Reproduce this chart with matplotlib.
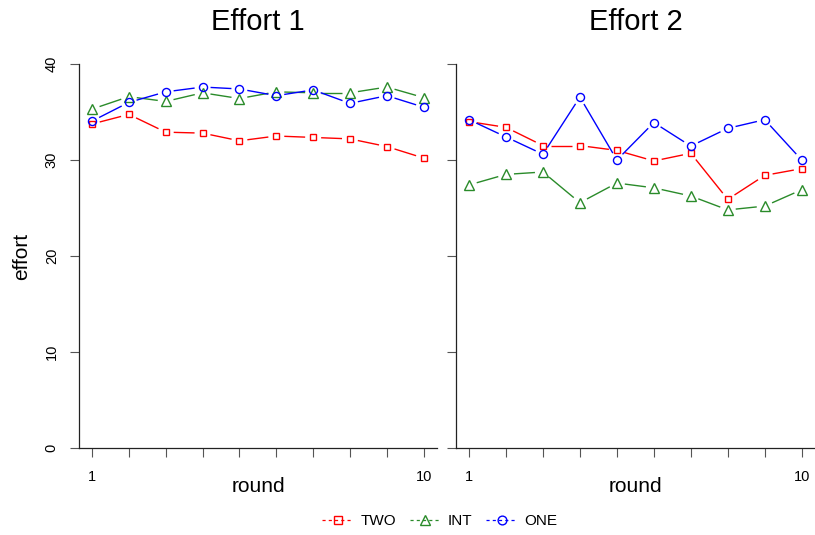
import numpy as np
import matplotlib
matplotlib.use("Agg")
import matplotlib.pyplot as plt
from matplotlib.lines import Line2D

plt.rcParams["font.family"] = ["Liberation Sans", "DejaVu Sans"]

ROUNDS = list(range(1, 11))
GROUPS = ["TWO", "INT", "ONE"]
COLORS = {"TWO": "#ff0000", "INT": "#2a8b2a", "ONE": "#0000ff"}
MARKERS = {"TWO": "s", "INT": "^", "ONE": "o"}
MSIZE = {"TWO": 5.0, "INT": 6.5, "ONE": 5.8}

# effort 1 (left panel)
e1_two = [33.75, 34.75, 32.9, 32.8, 32.0, 32.5, 32.35, 32.2, 31.4, 30.2]
e1_int = [35.3, 36.6, 36.1, 37.0, 36.4, 37.1, 37.0, 37.0, 37.6, 36.5]
e1_one = [34.05, 36.0, 37.1, 37.6, 37.4, 36.7, 37.3, 35.9, 36.7, 35.5]
# effort 2 (right panel)
e2_two = [34.0, 33.4, 31.5, 31.5, 31.0, 29.9, 30.7, 25.9, 28.4, 29.1]
e2_int = [27.4, 28.5, 28.75, 25.55, 27.6, 27.1, 26.25, 24.8, 25.2, 26.9]
e2_one = [34.2, 32.4, 30.6, 36.55, 30.0, 33.9, 31.45, 33.3, 34.2, 30.0]

PANELS = [("Effort 1", {"TWO": e1_two, "INT": e1_int, "ONE": e1_one}),
          ("Effort 2", {"TWO": e2_two, "INT": e2_int, "ONE": e2_one})]

W, H = 815, 535
fig = plt.figure(figsize=(W / 100, H / 100), dpi=100)
boxes = [(79, 437), (456, 815)]
top, bottom = 64, 448


def gapped_line(ax, x, y, color, gap=8.0):
    # R type="b": segments stop short of the points
    tr = ax.transData
    pts = tr.transform(np.column_stack([x, y]))
    inv = tr.inverted()
    for p, q in zip(pts[:-1], pts[1:]):
        d = q - p
        L = np.hypot(*d)
        if L <= 2 * gap:
            continue
        u = d / L
        a, b = inv.transform(np.array([p + u * gap, q - u * gap]))
        ax.plot([a[0], b[0]], [a[1], b[1]], color=color, lw=1.0,
                solid_capstyle="butt")


for i, ((title, series), (x0, x1)) in enumerate(zip(PANELS, boxes)):
    ax = fig.add_axes([x0 / W, (H - bottom) / H, (x1 - x0) / W, (bottom - top) / H])
    ax.set_xlim(0.648, 10.36)
    ax.set_ylim(0, 40)
    for s in ("top", "right"):
        ax.spines[s].set_visible(False)
    for s in ("left", "bottom"):
        ax.spines[s].set_linewidth(0.9)
        ax.spines[s].set_color("#222222")
    ax.set_xticks(ROUNDS)
    ax.set_xticklabels(["1"] + [""] * 8 + ["10"])
    ax.set_yticks([0, 10, 20, 30, 40])
    ax.tick_params(direction="out", length=6.5, width=0.8, color="#555555",
                   labelsize=10.5)
    ax.tick_params(axis="x", pad=9.5)
    ax.tick_params(axis="y", pad=8, labelrotation=90)
    for lab in ax.get_yticklabels():
        lab.set_va("center")
    if i == 1:
        ax.set_yticklabels([])
    for g in GROUPS:
        gapped_line(ax, ROUNDS, series[g], COLORS[g])
        ax.plot(ROUNDS, series[g], ls="none", marker=MARKERS[g], ms=MSIZE[g],
                mfc="none", mec=COLORS[g], mew=1.0)
    cx = (x0 + x1) / 2 / W
    fig.text(cx, 1 - 22 / H, title, ha="center", va="center", fontsize=21)
    fig.text(cx, 1 - 486 / H, "round", ha="center", va="center", fontsize=15)

fig.text(22 / W, 1 - 256 / H, "effort", ha="center", va="center",
         rotation=90, fontsize=15)

handles = [Line2D([], [], color=COLORS[g], ls=(0, (2.5, 2.5)), lw=0.9,
                  marker=MARKERS[g], ms=MSIZE[g] + 0.5, mfc="none",
                  mec=COLORS[g], mew=1.0) for g in GROUPS]
fig.legend(handles, GROUPS, loc="center", bbox_to_anchor=(440 / W, 1 - 521 / H),
           ncol=3, frameon=False, fontsize=11, handlelength=2.0,
           handletextpad=0.5, columnspacing=0.9)

fig.savefig("out.png", dpi=100)
